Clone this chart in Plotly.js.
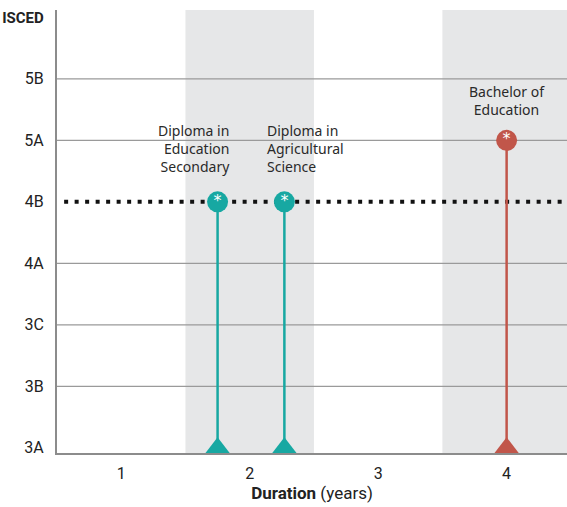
<!DOCTYPE html>
<html><head><meta charset="utf-8">
<script src="https://cdn.plot.ly/plotly-3.0.1.min.js"></script>
<style>html,body{margin:0;padding:0;background:#fff}#chart{width:567px;height:507px}</style>
</head><body><div id="chart"></div>
<script>
// ISCED levels (bottom to top) and tick labels
const levelOrder = ['3A','3B','3C','4A','4B','5A','5B','ISCED'];
const levelTickText = ['3A','3B','3C','4A','4B','5A','5B','<span style="font-size:15px"><b>ISCED</b></span>'];
const gridLevels = ['3B','3C','4A','5A','5B'];
const benchmarkLevel = '4B';
// Programmes
const programmes = ['Diploma in<br>Education<br>Secondary', 'Diploma in<br>Agricultural<br>Science', 'Bachelor of<br>Education'];
const durations = [1.75, 2.27, 4];
const levels = ['4B', '4B', '5A'];
const baseLevel = '3A';
const colors = ['#17a8a2', '#17a8a2', '#c1564a'];
const labelAlign = ['right', 'left', 'center'];
// x-axis
const durationTicks = [1, 2, 3, 4];
const shadedBands = [[1.5, 2.5], [3.5, 4.6]];

const yIdx = l => levelOrder.indexOf(l);

const traces = [];
programmes.forEach((p, i) => {
  traces.push({
    type: 'scatter', mode: 'lines', x: [durations[i], durations[i]],
    y: [yIdx(baseLevel), yIdx(levels[i])],
    line: {color: colors[i], width: 2.5}, hoverinfo: 'skip', showlegend: false
  });
  traces.push({
    type: 'scatter', mode: 'markers', x: [durations[i]], y: [yIdx(baseLevel)],
    marker: {symbol: 'triangle-up', size: 21, color: colors[i]}, cliponaxis: false,
    hoverinfo: 'skip', showlegend: false
  });
  traces.push({
    type: 'scatter', mode: 'markers+text', x: [durations[i]], y: [yIdx(levels[i])],
    marker: {symbol: 'circle', size: 21, color: colors[i]},
    text: ['*'], textposition: 'middle center',
    textfont: {color: '#ffffff', size: 16, family: 'DejaVu Sans'},
    cliponaxis: false, hoverinfo: 'skip', showlegend: false
  });
});

const shapes = [];
shadedBands.forEach(b => shapes.push({type: 'rect', xref: 'x', yref: 'paper', x0: b[0], x1: b[1], y0: 0, y1: 1,
  fillcolor: '#e6e7e8', line: {width: 0}, layer: 'below'}));
gridLevels.forEach(l => shapes.push({type: 'line', xref: 'paper', yref: 'y', x0: 0, x1: 1, y0: yIdx(l), y1: yIdx(l),
  line: {color: '#9a9a9a', width: 1.2}, layer: 'below'}));
shapes.push({type: 'line', xref: 'paper', yref: 'y', x0: 0.014, x1: 1, y0: yIdx(benchmarkLevel), y1: yIdx(benchmarkLevel),
  line: {color: '#111111', width: 4, dash: '4px,6.5px'}, layer: 'below'});

const annotations = programmes.map((p, i) => ({
  x: durations[i], y: yIdx(levels[i]), xref: 'x', yref: 'y', text: p, showarrow: false,
  xanchor: labelAlign[i], yanchor: 'bottom', align: labelAlign[i],
  xshift: labelAlign[i] === 'right' ? 14 : (labelAlign[i] === 'left' ? -19 : 0),
  yshift: labelAlign[i] === 'center' ? 19 : 24,
  font: {family: 'Noto Sans, sans-serif', size: 14, color: '#2a2a2a'}
}));

const layout = {
  width: 567, height: 507,
  margin: {l: 57, r: 0, t: 10, b: 54},
  paper_bgcolor: '#ffffff', plot_bgcolor: '#ffffff',
  font: {family: 'Roboto, sans-serif', color: '#333333', size: 16},
  xaxis: {
    range: [0.5, 4.47], tickvals: durationTicks, ticktext: durationTicks.map(String),
    showgrid: false, zeroline: false, showline: true, linecolor: '#8c8c8c', linewidth: 2,
    ticks: 'outside', ticklen: 5, tickcolor: 'rgba(0,0,0,0)',
    tickfont: {size: 16, color: '#222222'},
    title: {text: '<b>Duration</b> (years)', font: {size: 17, color: '#222222'}, standoff: 4}
  },
  yaxis: {
    range: [-0.085, 7.12], tickvals: levelOrder.map((l, i) => i), ticktext: levelTickText,
    showgrid: false, zeroline: false, showline: true, linecolor: '#8c8c8c', linewidth: 2,
    ticks: 'outside', ticklen: 8, tickcolor: 'rgba(0,0,0,0)',
    tickfont: {size: 16, color: '#222222'}
  },
  shapes: shapes,
  annotations: annotations,
  showlegend: false
};

Plotly.newPlot('chart', traces, layout, {displayModeBar: false, staticPlot: true});
</script></body></html>
